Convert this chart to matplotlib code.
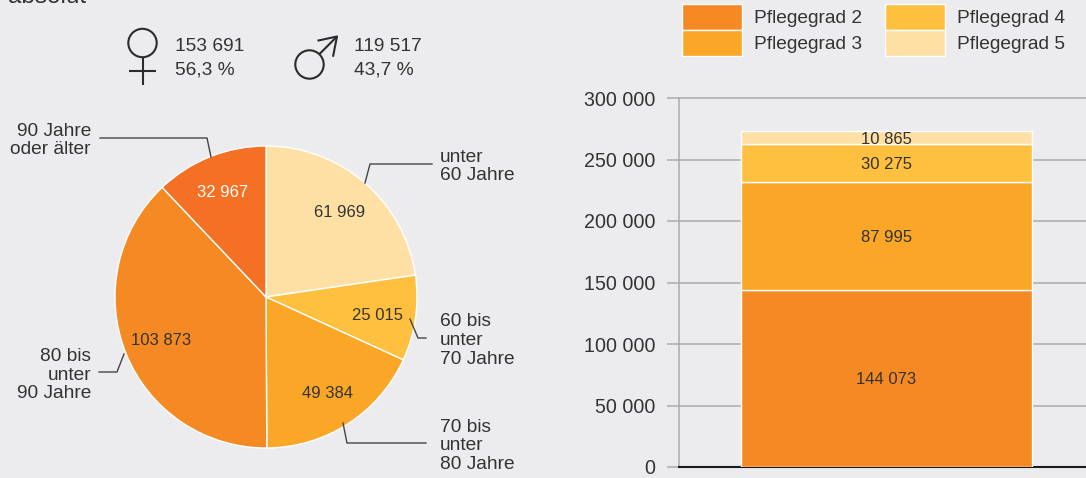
import matplotlib
matplotlib.use("Agg")
import matplotlib.pyplot as plt
from matplotlib.patches import Circle

# Altersgruppen, im Uhrzeigersinn ab 12 Uhr
age_values = [61969, 25015, 49384, 103873, 32967]
age_value_labels = ["61 969", "25 015", "49 384", "103 873", "32 967"]
age_labels = ["unter\n60 Jahre", "60 bis\nunter\n70 Jahre", "70 bis\nunter\n80 Jahre",
              "80 bis\nunter\n90 Jahre", "90 Jahre\noder älter"]

grades = ["Pflegegrad 2", "Pflegegrad 3", "Pflegegrad 4", "Pflegegrad 5"]
grade_values = [144073, 87995, 30275, 10865]
grade_value_labels = ["144 073", "87 995", "30 275", "10 865"]
y_ticks = [0, 50000, 100000, 150000, 200000, 250000, 300000]
y_tick_labels = ["0", "50 000", "100 000", "150 000", "200 000", "250 000", "300 000"]

female = ["153 691", "56,3 %"]
male = ["119 517", "43,7 %"]

W, H = 1086, 478
BG = "#ECECEE"
TXT = "#333333"
GRID = "#ABABAD"
age_colors = ["#FEE0A5", "#FFC03F", "#FAA727", "#F58A24", "#F47024"]
grade_colors = ["#F58A24", "#FAA727", "#FFC03F", "#FEE0A5"]
FS = 13.8
FS_TICK = 14.1
FS_SMALL = 12.0

plt.rcParams["font.family"] = ["Liberation Sans", "DejaVu Sans"]

fig = plt.figure(figsize=(W / 100, H / 100), dpi=100, facecolor=BG)


def px_axes(left, top, right, bottom):
    return fig.add_axes([left / W, 1 - bottom / H, (right - left) / W, (bottom - top) / H])


# Kreisdiagramm
cx, cy, r = 266, 297, 151
pie_ax = px_axes(cx - r - 1, cy - r - 1, cx + r + 1, cy + r + 1)
pie_ax.pie(age_values, colors=age_colors, startangle=90, counterclock=False,
           wedgeprops={"edgecolor": "white", "linewidth": 1.0})
pie_ax.set_xlim(-(r + 1) / r, (r + 1) / r)
pie_ax.set_ylim(-(r + 1) / r, (r + 1) / r)
pie_ax.set_facecolor("none")

# Balken
bar_ax = px_axes(679, 98, 1086, 467)
bar_ax.set_facecolor("none")
bar_center, bar_width = 886.5, 291
bar_ax.set_xlim((679 - bar_center) / bar_width, (1086 - bar_center) / bar_width)
bar_ax.set_ylim(0, 300000)
bottom = 0
handles = []
for name, val, lab, col in zip(grades, grade_values, grade_value_labels, grade_colors):
    b = bar_ax.bar(0, val, width=1, bottom=bottom, color=col, edgecolor="white",
                   linewidth=1.0, zorder=3, label=name)
    handles.append(b[0])
    bar_ax.text(0, bottom + val / 2, lab, ha="center", va="center_baseline",
                fontsize=FS_SMALL, color=TXT, zorder=4)
    bottom += val
bar_ax.set_xticks([])
bar_ax.set_yticks(y_ticks)
bar_ax.set_yticklabels(y_tick_labels, fontsize=FS_TICK, color=TXT)
bar_ax.tick_params(axis="y", length=8.6, width=1.1, color=GRID, pad=8.5)
bar_ax.grid(axis="y", color=GRID, linewidth=1.1, zorder=0)
bar_ax.set_axisbelow(True)
for line in bar_ax.get_ygridlines():
    line.set_clip_on(False)
for side in ["top", "right"]:
    bar_ax.spines[side].set_visible(False)
bar_ax.spines["left"].set_color(GRID)
bar_ax.spines["left"].set_linewidth(1.1)
bar_ax.spines["bottom"].set_color("#1A1A1A")
bar_ax.spines["bottom"].set_linewidth(1.5)

fig.legend(handles=handles, labels=grades, ncols=2, loc="upper left",
           bbox_to_anchor=(682 / W, 1 - 4 / H), borderaxespad=0, borderpad=0,
           frameon=False, fontsize=FS, labelcolor=TXT, handlelength=3.13,
           handleheight=1.71, labelspacing=0.0, handletextpad=0.65, columnspacing=1.15)

# Overlay in Pixelkoordinaten fuer Beschriftungen und Symbole
ov = fig.add_axes([0, 0, 1, 1], zorder=10)
ov.set_xlim(0, W)
ov.set_ylim(H, 0)
ov.axis("off")
ov.patch.set_alpha(0)

ov.text(8, 3, "absolut", fontsize=17.5, color=TXT, ha="left", va="baseline")

# Symbole
sym = {"color": "#2B2B2B", "linewidth": 1.5, "solid_capstyle": "butt"}
ov.add_patch(Circle((142.5, 43), 14.2, fill=False, edgecolor="#2B2B2B", linewidth=1.5))
ov.plot([142.5, 142.5], [57, 85], **sym)
ov.plot([129, 156], [71, 71], **sym)
ov.add_patch(Circle((309.5, 64.5), 14.2, fill=False, edgecolor="#2B2B2B", linewidth=1.5))
ov.plot([319.5, 337], [54, 36.5], **sym)
ov.plot([317.5, 337, 333], [40.7, 36.5, 56.7], **sym)

for x, lines in [(175, female), (354, male)]:
    ov.text(x, 44, lines[0], fontsize=FS, color=TXT, ha="left", va="center_baseline")
    ov.text(x, 68, lines[1], fontsize=FS, color=TXT, ha="left", va="center_baseline")

# Werte im Kreis
value_pos = [(340, 211, TXT), (378, 314, TXT), (327, 392, TXT), (161, 339, TXT), (223, 191, "white")]
for lab, (x, y, c) in zip(age_value_labels, value_pos):
    ov.text(x, y, lab, fontsize=FS_SMALL, color=c, ha="center", va="center_baseline")

# Alterslabels mit Fuehrungslinien
label_pos = [(440, 166.5, "left"), (440, 340.5, "left"), (440, 446, "left"), (91, 375, "right"), (91, 140.5, "right")]
leaders = [([432, 370, 365], [164, 164, 183]),
           ([426, 418, 410], [338, 338, 319]),
           ([426, 347, 343], [443, 443, 423]),
           ([99, 117, 124], [372, 372, 354]),
           ([100, 207, 211], [138, 138, 157])]
for lab, (x, y, ha), (lx, ly) in zip(age_labels, label_pos, leaders):
    ov.text(x, y, lab, fontsize=FS, color=TXT, ha=ha, va="center", linespacing=1.12,
            multialignment=ha)
    ov.plot(lx, ly, color="#444444", linewidth=1.0)

fig.savefig("out.png", dpi=100, facecolor=BG)
